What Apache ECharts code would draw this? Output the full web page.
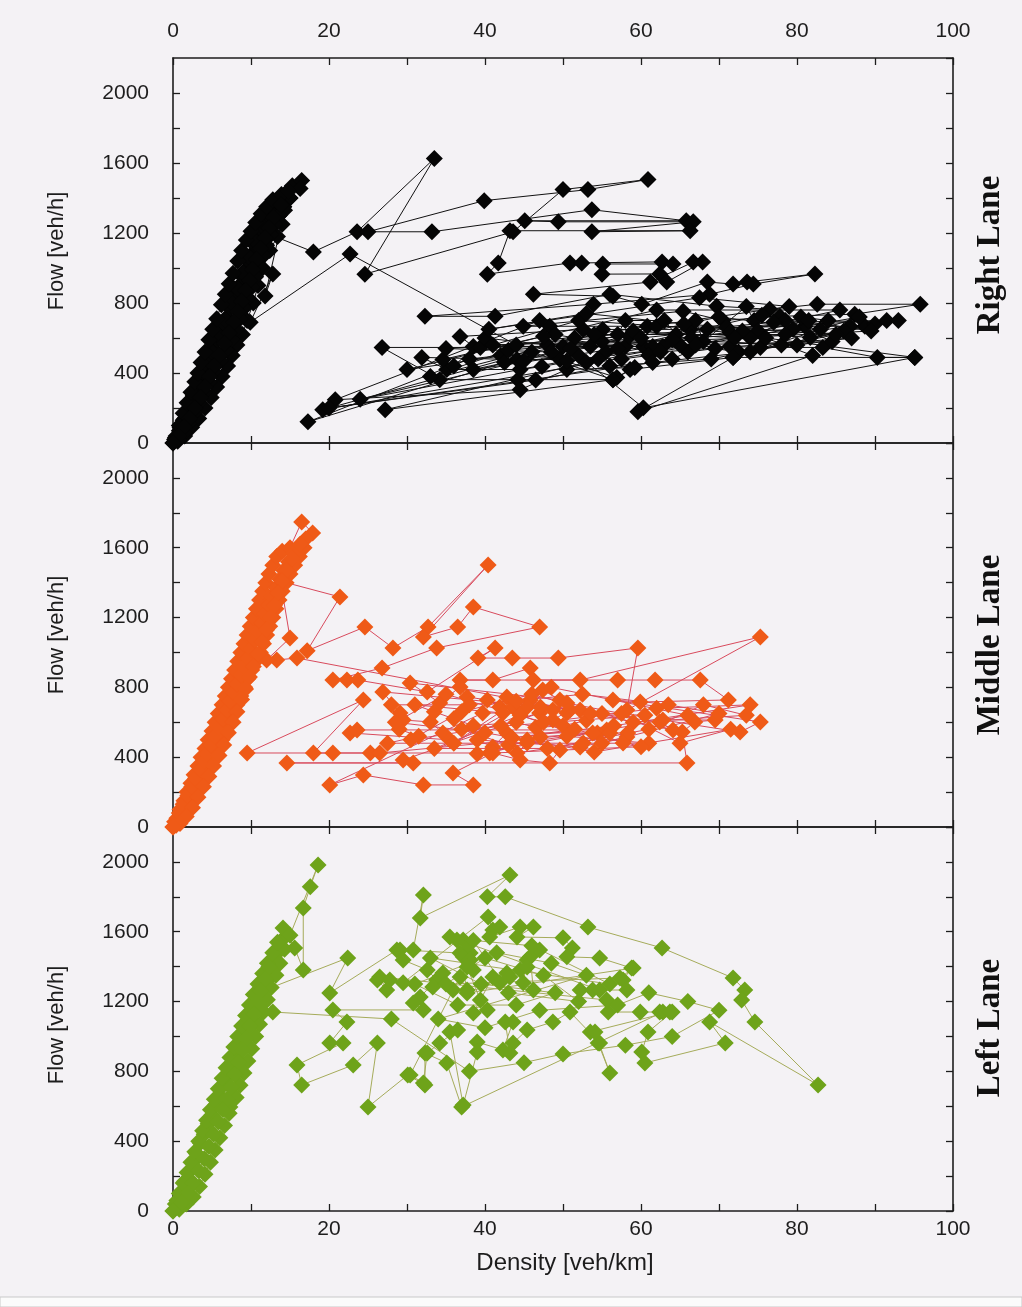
<!DOCTYPE html>
<html>
<head>
<meta charset="utf-8">
<title>Flow vs Density by Lane</title>
<script src="https://cdn.jsdelivr.net/npm/echarts@6/dist/echarts.min.js"></script>
<style>
  html, body { margin: 0; padding: 0; background: #f4f2f5; }
  #chart { width: 1022px; height: 1307px; }
</style>
</head>
<body>
<div id="chart"></div>
<script>
// Density ticks (shared by all panels) and flow ticks
const densityTicks = [0, 20, 40, 60, 80, 100];
const flowTicks = [0, 400, 800, 1200, 1600, 2000];
const laneNames = ['Right Lane', 'Middle Lane', 'Left Lane'];

// Right lane: [density veh/km, flow veh/h] in time order
const rightLane = [
  [0,0],[0.4,40],[0.9,90],[1.3,130],[1.7,180],[2.2,220],[2.6,270],[3.0,310],[3.5,360],[3.9,400],[4.3,450],[4.8,490],
  [5.2,540],[5.6,590],[6.0,630],[6.5,680],[6.9,720],[7.3,770],[7.7,810],[8.1,860],[8.5,900],[8.9,950],[9.3,990],
  [9.7,1040],[10.1,1080],[10.5,1130],[10.9,1170],[11.3,1220],[11.7,1260],[12.1,1300],[12.6,1340],[13.1,1370],
  [13.7,1400],[14.5,1430],[15.3,1470],[16.5,1500],[16.3,1455],[15.0,1400],[14.2,1350],[13.6,1300],[13.0,1250],[12.5,1190],
  [18.0,1092],[23.6,1207],[33.5,1626],[24.6,965],[43.6,1207],[50.0,1448],[60.9,1506],[53.2,1448],[39.9,1385],
  [25.0,1207],[33.2,1207],[53.7,1333],[65.8,1270],[45.1,1270],[49.4,1264],[66.7,1264],[53.7,1207],[66.3,1213],
  [43.2,1213],[41.7,1029],[40.3,965],[50.9,1029],[52.4,1029],[62.7,1035],[64.1,1023],[55.1,1023],[55.0,965],
  [62.4,966],[63.3,920],[67.9,1034],[66.7,1034],[61.2,920],[46.2,850],[56.4,839],[60.1,793],[68.5,920],[71.8,908],
  [73.6,920],[82.3,966],[74.4,908],[68.8,850],[53.9,793],[32.3,724],[41.3,724],[56.0,850],[69.7,782],[76.5,764],
  [82.6,793],[95.8,793],[87.4,736],[77.8,724],[70.5,700],[65.4,753],[44.9,667],[48.3,667],[60.8,667],[62.0,667],
  [71.0,660],[81.0,667],[86.8,667],[88.7,667],[81.7,603],[71.4,632],[66.3,649],[55.1,649],[52.6,649],[36.8,609],
  [38.5,552],[53.5,552],[60.3,552],[62.8,552],[71.4,552],[75.3,546],[83.3,546],[90.3,489],[95.1,489],[71.8,489],
  [58.6,420],[56.4,362],[44.2,362],[34.2,362],[26.8,546],[39.4,546],[50.0,552],[58.0,552],[61.5,552],[47.3,437],
  [44.5,420],[35.1,420],[31.9,489],[44.1,477],[49.6,477],[56.9,374],[59.2,431],[50.5,420],[44.5,305],[20.8,247],
  [47.0,700],[49.0,620],[51.5,600],[57.0,620],[58.0,700],[63.0,700],[64.5,620],[67.0,700],[68.0,580],[73.5,780],
  [74.5,700],[75.0,640],[79.5,650],[80.5,720],[84.0,700],[86.0,640],[90.0,680],[78.0,560],[72.5,520],[69.5,540],
  [66.0,520],[64.0,480],[61.0,500],[57.5,480],[55.5,520],[54.5,480],[42.0,500],[38.0,480],[17.3,121],[42.5,460],
  [52.0,500],[60.3,201],[95.1,489],[76.0,600],[82.0,500],[59.6,178],[71.8,489],[88.0,720],[19.2,190],[46.0,520],
  [56.4,362],[27.2,190],[53.0,460],[65.0,560],[84.5,580],[78.5,700],[74.0,600],[48.0,560],[40.0,600],[36.0,440],
  [34.6,477],[62.0,760],[85.5,760],[73.0,640],[48.5,520],[35.0,540],[58.5,610],[77.0,690],[91.5,700],[68.5,650],
  [52.0,700],[41.0,560],[64.0,590],[80.0,560],[87.0,600],[62.5,520],[47.5,610],[30.0,420],[55.0,580],[70.0,720],
  [83.0,650],[66.5,600],[51.0,540],[38.5,420],[57.0,540],[75.5,730],[89.5,640],[72.0,600],[59.0,640],[45.0,470],
  [24.0,250],[50.5,470],[67.0,560],[81.5,700],[60.0,600],[43.0,530],[33.0,380],[54.0,620],[78.5,620],[93.0,700],
  [69.0,480],[56.0,440],[46.5,360],[20.0,200],[61.5,460],[74.0,520],[85.0,620],[65.5,680],[53.0,740],[40.5,650],
  [67.5,830],[79.0,780],
  [44.0,560],[22.7,1080],[9.9,690],[12.8,966],[11.8,840],[14.3,1330],[14.0,1250],[13.4,1180],[12.4,1100],[11.5,1000],
  [10.9,900],[10.3,800],[9.5,700],[8.9,620],[8.2,560],[7.6,500],[7.0,440],[6.3,380],[5.6,320],[4.9,260],[4.1,200],
  [3.3,140],[2.4,90],[1.5,40],[0.6,10],[0.2,20],[0.8,70],[1.5,140],[2.4,240],[3.2,330],[4.1,420],[5.0,520],
  [5.9,610],[6.8,700],[7.6,800],[8.3,880],[9.0,970],[9.8,1060],[10.6,1150],[11.4,1240],[12.4,1320],[13.4,1380],
  [15.0,1400],[14.2,1350],[13.6,1300],[13.0,1250],[12.5,1190],[12.0,1130],[11.6,1070],[11.1,1010],[10.6,950],
  [10.1,890],[9.6,830],[9.1,770],[8.6,710],[8.1,650],[7.5,590],[6.8,530],[6.1,470],[5.2,410],[4.6,350],[4.0,290],
  [3.3,230],[2.7,170],[2.0,110],[1.4,60],[0.7,20],[0.3,30],[0.8,100],[1.3,170],[1.8,230],[2.3,290],[2.8,350],
  [3.2,400],[3.6,460],[4.1,520],[4.6,590],[5.1,650],[5.6,710],[6.2,790],[6.7,850],[7.2,910],[7.7,970],[8.3,1040],
  [8.8,1100],[9.4,1160],[10.0,1210],[10.6,1260],[11.3,1310],[12.0,1350],[12.8,1390],[13.9,1420],[14.8,1440],
  [13.8,1360],[12.9,1290],[12.3,1230],[11.8,1170],[11.2,1110],[10.7,1050],[10.2,990],[9.8,930],[9.3,870],[8.8,810],
  [8.3,750],[7.8,690],[7.2,630],[6.6,570],[5.9,500],[5.3,440],[4.7,380],[4.1,320],[3.5,260],[2.8,200],[2.1,140],
  [1.4,90],[0.7,40],[0,0]
];

// Middle lane
const middleLane = [
  [0,0],[0.5,50],[0.9,100],[1.4,150],[1.8,200],[2.3,250],[2.7,300],[3.2,350],[3.6,400],[4.1,450],[4.5,500],
  [5.0,550],[5.4,600],[5.8,650],[6.3,700],[6.7,750],[7.1,800],[7.5,850],[7.9,900],[8.3,950],[8.7,1000],[9.1,1050],
  [9.5,1100],[9.9,1150],[10.3,1200],[10.7,1250],[11.1,1300],[11.5,1350],[11.9,1400],[12.3,1450],[12.8,1500],
  [13.3,1550],[14.0,1580],[15.0,1600],[16.5,1748],[17.9,1685],[17.0,1650],[16.8,1600],[16.2,1550],[15.6,1500],
  [15.0,1450],[14.5,1400],[21.4,1318],[17.2,1010],[24.6,1146],[28.2,1026],[32.7,1146],[40.4,1501],[32.1,1089],
  [36.5,1146],[38.5,1261],[47.0,1146],[33.8,1026],[26.8,911],[20.5,842],[22.3,842],[23.7,842],[32.6,774],
  [41.3,1026],[39.1,968],[43.5,968],[49.4,968],[59.6,1026],[58.2,670],[75.3,1089],[52.2,842],[36.8,842],
  [41.0,842],[45.8,911],[46.2,842],[57.0,842],[61.8,842],[67.6,842],[71.2,728],[59.9,716],[56.4,728],[75.3,602],
  [72.7,544],[62.8,613],[69.5,613],[66.9,602],[65.3,544],[65.9,367],[14.6,367],[30.8,367],[29.5,384],[47.0,653],
  [48.7,613],[50.9,670],[62.4,602],[64.1,556],[42.8,745],[45.8,728],[47.4,785],[49.6,728],[30.4,825],[34.2,711],
  [36.8,802],[37.7,745],[40.3,728],[41.9,688],[43.6,688],[45.4,688],[47.1,688],[48.7,670],[50.5,653],[52.2,670],
  [26.9,774],[29.1,653],[29.5,613],[33.0,602],[34.6,539],[35.5,499],[22.7,539],[23.6,556],[55.6,556],[58.2,516],
  [52.2,458],[39.0,499],[41.0,458],[42.8,539],[58.3,539],[57.7,481],[54.4,539],[56.0,539],[52.6,481],[44.1,424],
  [45.4,481],[40.6,424],[9.5,424],[24.4,728],[18.0,424],[20.5,424],[25.3,424],[26.5,424],[53.8,539],[47.1,516],
  [45.4,499],[49.6,441],[48.3,367],[44.5,384],[41.0,424],[35.9,309],[38.5,241],[32.1,241],[24.4,298],[20.1,241],
  [39.7,653],[42.3,653],[31.0,700],[33.5,660],[36.0,620],[38.5,580],[44.0,600],[46.5,570],[50.0,580],[53.0,610],
  [55.0,650],[60.5,640],[37.0,560],[43.0,470],[50.5,520],[61.0,480],[27.5,480],[31.5,520],[29.0,560],[28.0,700],
  [38.0,700],[52.5,760],[63.5,700],[70.0,650],[55.0,480],[44.5,640],[33.5,450],[48.0,450],[61.0,560],[68.0,700],
  [73.5,640],[59.0,600],[46.0,760],[37.0,660],[30.5,500],[42.0,580],[50.5,710],[57.5,650],[65.0,480],[71.5,560],
  [54.0,430],[40.0,540],[28.5,600],[35.0,760],[47.5,600],[62.0,680],[74.0,700],[56.5,580],[43.5,510],[51.5,560],
  [60.0,460],[39.0,420],[66.0,640],[48.5,800],[36.0,480],[44.0,720],[53.5,650],
  [15.9,968],[13.3,957],[12.0,957],[15.0,1083],[14.0,1350],[13.6,1300],[13.2,1250],[12.8,1200],[12.4,1150],
  [12.0,1100],[11.6,1050],[11.2,1000],[10.6,950],[10.1,900],[9.6,850],[9.2,800],[8.7,750],[8.2,700],[7.8,650],
  [7.3,600],[6.8,550],[6.3,500],[5.8,450],[5.3,400],[4.8,350],[4.2,300],[3.6,250],[3.0,200],[2.4,150],[1.8,100],
  [1.1,50],[0.4,10],[0.2,30],[0.8,80],[1.3,130],[1.9,180],[2.4,230],[2.9,280],[3.5,330],[4.0,380],[4.4,420],
  [4.9,470],[5.4,520],[5.9,570],[6.4,620],[6.9,670],[7.3,720],[7.8,770],[8.2,820],[8.7,870],[9.1,920],[9.6,970],
  [10.0,1020],[10.5,1070],[10.9,1120],[11.4,1170],[11.8,1220],[12.3,1270],[12.7,1320],[13.2,1370],[13.7,1420],
  [14.2,1470],[14.8,1520],[15.5,1570],[16.3,1620],[15.3,1540],[14.6,1470],[14.0,1410],[13.5,1340],[13.0,1270],
  [12.5,1200],[12.0,1130],[11.4,1060],[10.9,990],[10.3,920],[9.8,860],[9.3,790],[8.8,730],[8.2,660],[7.7,600],
  [7.1,540],[6.5,470],[5.9,410],[5.2,350],[4.6,290],[3.9,230],[3.2,170],[2.5,110],[1.7,60],[0.9,20],[0,0]
];

// Left lane
const leftLane = [
  [0,0],[0.5,60],[1.0,110],[1.5,170],[2.0,220],[2.5,280],[3.0,330],[3.5,390],[4.0,440],[4.5,500],[5.0,550],
  [5.5,610],[6.0,660],[6.5,720],[7.0,770],[7.5,830],[8.0,880],[8.5,940],[9.0,990],[9.5,1050],[10.0,1100],
  [10.5,1160],[11.0,1210],[11.5,1270],[12.0,1320],[12.5,1380],[13.0,1430],[13.6,1490],[14.1,1560],[14.1,1622],
  [15.6,1507],[16.7,1381],[16.7,1736],[17.6,1857],[18.6,1983],[15.0,1580],[14.3,1500],[13.7,1420],[13.2,1350],
  [12.6,1280],[22.4,1450],[20.1,1249],[28.7,1496],[30.8,1496],[32.1,1811],[31.7,1679],[43.2,1925],[40.3,1800],
  [42.6,1800],[53.2,1627],[62.7,1507],[71.8,1335],[73.3,1266],[72.9,1209],[74.6,1083],[82.7,722],[68.8,1083],
  [70.8,963],[60.5,848],[60.1,911],[60.9,1026],[64.0,1140],[62.4,1140],[59.9,1140],[55.8,1140],[55.6,1209],
  [26.5,1341],[27.4,1266],[26.2,1324],[27.8,1324],[29.5,1307],[40.4,1685],[41.0,1610],[41.9,1627],[40.6,1570],
  [44.5,1627],[46.2,1627],[44.1,1570],[50.0,1565],[51.2,1507],[50.5,1456],[54.7,1450],[58.8,1392],[57.7,1324],
  [58.2,1266],[52.2,1266],[53.8,1266],[54.7,1266],[35.5,1570],[37.2,1553],[38.1,1478],[36.8,1478],[29.1,1496],
  [29.5,1438],[32.6,1381],[33.8,1324],[33.3,1284],[34.6,1364],[31.7,1226],[30.8,1192],[32.1,1152],[20.5,1152],
  [22.3,1083],[20.1,963],[21.8,963],[15.9,837],[16.5,722],[23.1,837],[26.2,963],[25.0,596],[30.1,779],[32.3,722],
  [32.3,905],[35.1,848],[37.0,596],[62.8,1140],[63.7,1140],[53.5,1026],[54.5,963],[56.0,791],[54.1,1026],[54.7,963],
  [50.9,1140],[48.7,1083],[45.4,1037],[43.6,963],[43.2,905],[42.6,1083],[43.6,1083],[42.3,923],[39.0,968],[39.0,911],
  [37.2,607],[35.5,1026],[36.5,1037],[34.2,963],[32.6,905],[32.1,734],[30.4,779],[35.9,1266],[36.8,1341],[37.7,1266],
  [36.4,1553],[37.7,1496],[37.2,1456],[38.1,1438],[38.5,1381],[37.7,1398],[39.4,1209],[40.3,1152],[38.5,1135],
  [41.0,1341],[42.8,1364],[41.9,1307],[44.5,1381],[45.4,1438],[44.9,1307],[46.2,1266],[45.8,1456],[47.0,1496],
  [45.4,1398],[43.2,1341],[37.7,1249],[59.0,1392],[57.3,1335],
  [35.0,1300],[40.0,1450],[47.5,1350],[52.0,1200],[43.0,1250],[38.5,1550],[46.0,1520],[56.0,1300],[33.0,1450],
  [39.5,1300],[49.0,1250],[44.0,1180],[36.5,1180],[31.0,1300],[41.5,1480],[48.5,1420],[53.0,1350],[34.0,1100],
  [40.0,1050],[47.0,1150],[57.0,1180],[61.0,1250],[66.0,1200],[70.0,1150],[64.0,1000],[58.0,950],[50.0,900],
  [45.0,850],[38.0,800],[28.0,1100],
  [12.8,1140],[12.1,1210],[11.6,1140],[11.1,1070],
  [10.6,1000],[10.1,930],[9.6,860],[9.1,790],[8.6,720],[8.1,650],[7.3,596],[7.2,560],[6.6,490],[6.0,420],
  [5.4,350],[4.8,280],[4.1,210],[3.4,140],[2.6,80],[1.7,40],[0.8,10],[0.3,40],[0.8,100],[1.3,160],[1.8,220],
  [2.3,280],[2.8,340],[3.3,400],[3.8,460],[4.3,520],[4.8,580],[5.3,640],[5.8,700],[6.3,760],[6.8,820],[7.3,880],
  [7.8,940],[8.3,1000],[8.8,1060],[9.3,1120],[9.8,1180],[10.3,1240],[10.9,1300],[11.5,1360],[12.1,1420],[12.8,1480],
  [13.4,1540],[12.3,1400],[11.8,1330],[11.3,1260],[10.9,1200],[10.4,1130],[9.9,1060],[9.4,990],[8.9,920],[8.4,850],
  [7.9,780],[7.4,710],[6.9,640],[6.4,580],[5.8,510],[5.2,440],[4.6,370],[4.0,300],[3.3,230],[2.6,160],[1.9,100],
  [1.1,50],[0,0]
];

const FONT = '"Liberation Sans", Arial, Helvetica, sans-serif';
const INK = '#1d1d1d';

const panels = [
  { data: rightLane,  marker: '#050505', line: '#111111', top: 58 },
  { data: middleLane, marker: '#ef5a17', line: '#d84a5c', top: 443 },
  { data: leftLane,   marker: '#6ea31a', line: '#a5ab5a', top: 827 }
];
const plotLeft = 173, plotWidth = 780, plotHeight = 384;

function xAxis(grid, position, showLabel, margin) {
  return {
    gridIndex: grid, type: 'value', position, min: 0, max: 100, interval: 10,
    axisLine: { onZero: false, lineStyle: { color: INK, width: 1.6 } },
    axisTick: { inside: true, length: 7, lineStyle: { color: INK, width: 1.3 } },
    splitLine: { show: false },
    axisLabel: {
      show: showLabel, margin, fontFamily: FONT, fontSize: 21, color: INK,
      formatter: v => densityTicks.includes(v) ? String(v) : ''
    }
  };
}
function yAxis(grid, position, showLabel) {
  return {
    gridIndex: grid, type: 'value', position, min: 0, max: 2200, interval: 200,
    axisLine: { onZero: false, lineStyle: { color: INK, width: 1.6 } },
    axisTick: { inside: true, length: 7, lineStyle: { color: INK, width: 1.3 } },
    splitLine: { show: false },
    axisLabel: {
      show: showLabel, margin: 24, fontFamily: FONT, fontSize: 21, color: INK,
      showMaxLabel: false,
      formatter: v => flowTicks.includes(v) ? String(v) : ''
    }
  };
}

const grids = [], xAxes = [], yAxes = [], series = [];
panels.forEach((p, i) => {
  grids.push({ left: plotLeft, width: plotWidth, top: p.top, height: i === 0 ? 385 : plotHeight });
  xAxes.push(xAxis(i, 'bottom', i === 2, 8));
  xAxes.push(xAxis(i, 'top', i === 0, 16));
  yAxes.push(yAxis(i, 'left', true));
  yAxes.push(yAxis(i, 'right', false));
  series.push({
    type: 'line', xAxisIndex: i * 2, yAxisIndex: i * 2,
    data: p.data, showSymbol: true, showAllSymbol: true,
    symbol: 'diamond', symbolSize: 17,
    itemStyle: { color: p.marker },
    lineStyle: { color: p.line, width: 1 },
    animation: false, silent: true, z: 3
  });
});

const graphics = [];
[251, 635, 1025].forEach(cy => {
  graphics.push({
    type: 'text', x: 57, y: cy, rotation: Math.PI / 2,
    style: { text: 'Flow [veh/h]', font: '22px ' + FONT, fill: INK, textAlign: 'center', textVerticalAlign: 'middle' }
  });
});
[255, 645, 1028].forEach((cy, i) => {
  graphics.push({
    type: 'text', x: 990, y: cy, rotation: Math.PI / 2,
    style: { text: laneNames[i], font: 'bold 33px "Liberation Serif", "Times New Roman", serif', fill: '#111', textAlign: 'center', textVerticalAlign: 'middle' }
  });
});
graphics.push({
  type: 'text', x: 565, y: 1263,
  style: { text: 'Density [veh/km]', font: '24px ' + FONT, fill: INK, textAlign: 'center', textVerticalAlign: 'middle' }
});
graphics.push({
  type: 'rect', shape: { x: 0, y: 1297, width: 1022, height: 10 },
  style: { fill: '#fbfbfb', stroke: '#c9c9c9', lineWidth: 1 }
});

const chart = echarts.init(document.getElementById('chart'), null, { renderer: 'canvas' });
chart.setOption({
  backgroundColor: '#f4f2f5',
  animation: false,
  grid: grids,
  xAxis: xAxes,
  yAxis: yAxes,
  series,
  graphic: graphics
});
</script>
</body>
</html>
